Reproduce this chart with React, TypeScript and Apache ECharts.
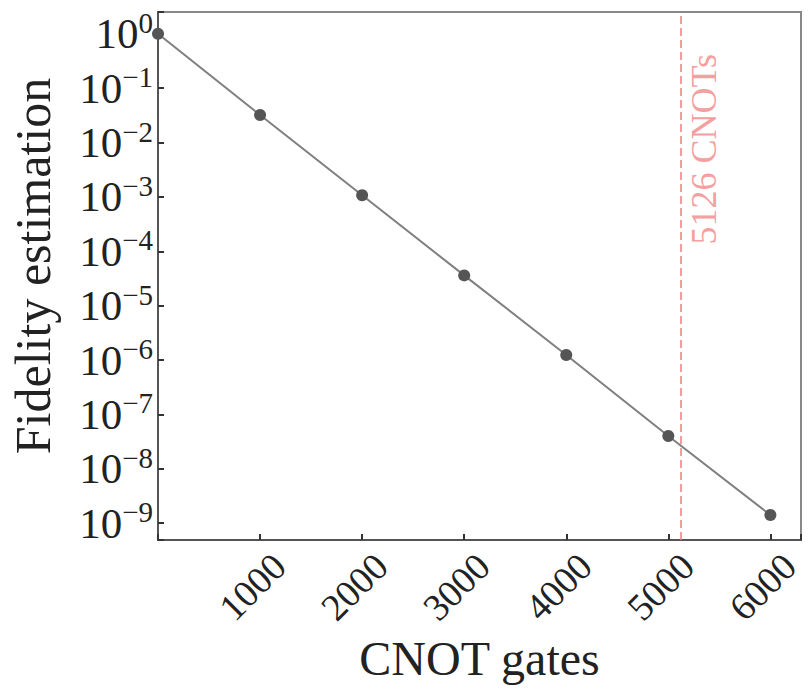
import React, { useEffect, useRef } from "react";
import * as echarts from "echarts";

const gates = [0, 1000, 2000, 3000, 4000, 5000, 6000];
const fidelity = [1.0, 0.032, 1.07e-3, 3.6e-5, 1.24e-6, 4.0e-8, 1.41e-9];
const xTicks = [1000, 2000, 3000, 4000, 5000, 6000];
const cnotLimit = 5126;
const limitLabel = "5126 CNOTs";
const xName = "CNOT gates";
const yName = "Fidelity estimation";

const FONT = "'Liberation Serif', 'DejaVu Serif', serif";

export default function App() {
  const ref = useRef<HTMLDivElement>(null);
  useEffect(() => {
    document.body.style.margin = "0";
    const chart = echarts.init(ref.current!, null, { renderer: "svg" });
    const data = gates.map((g, i) => [g, fidelity[i]]);
    chart.setOption({
      animation: false,
      backgroundColor: "#fff",
      grid: {
        left: 158,
        right: 7,
        top: 12,
        bottom: 149,
        outerBoundsMode: "none",
        containLabel: false,
        show: true,
        borderColor: "#888",
        borderWidth: 2,
      },
      xAxis: {
        type: "value",
        min: 0,
        max: 6300,
        interval: 1000,
        name: xName,
        nameLocation: "middle",
        nameGap: 94,
        nameTextStyle: { fontFamily: FONT, fontSize: 48, color: "#222" },
        axisLine: { show: true, lineStyle: { color: "#555", width: 2 } },
        axisTick: { show: true, inside: true, length: 6, lineStyle: { color: "#333", width: 2 } },
        splitLine: { show: false },
        axisLabel: {
          rotate: 45,
          align: "center",
          verticalAlign: "middle",
          margin: 39,
          padding: [0, 22, 0, 0],
          fontFamily: FONT,
          fontSize: 38,
          color: "#222",
          formatter: (v: number) => (xTicks.includes(v) ? String(v) : ""),
        },
      },
      yAxis: {
        type: "log",
        logBase: 10,
        min: Math.pow(10, -9.31),
        max: Math.pow(10, 0.4),
        splitNumber: 10,
        name: yName,
        nameLocation: "middle",
        nameRotate: 90,
        nameGap: 100,
        nameTextStyle: { fontFamily: FONT, fontSize: 50, color: "#222", padding: [0, 0, 0, 20] },
        axisLine: { show: true, lineStyle: { color: "#555", width: 2 } },
        axisTick: { show: true, inside: true, length: 6, lineStyle: { color: "#333", width: 2 } },
        splitLine: { show: false },
        axisLabel: {
          margin: 5,
          color: "#222",
          formatter: (v: number) => {
            const l = Math.log10(v);
            const e = Math.round(l);
            if (Math.abs(l - e) > 0.01) return "";
            const s = e < 0 ? "\u2212" + Math.abs(e) : String(e);
            return "{b|10}{s|" + s + "}";
          },
          rich: {
            b: { fontFamily: FONT, fontSize: 43, color: "#222" },
            s: { fontFamily: FONT, fontSize: 29, color: "#222", padding: [0, 0, 22, 0] },
          },
        },
      },
      series: [
        {
          type: "line",
          data,
          symbol: "circle",
          symbolSize: 12,
          lineStyle: { color: "#7f7f7f", width: 2 },
          itemStyle: { color: "#555" },
          markLine: {
            silent: true,
            symbol: "none",
            lineStyle: { color: "#ef7f7f", type: [8, 4], width: 1.5 },
            label: {
              show: true,
              formatter: limitLabel,
              position: "insideEndBottom",
              distance: [42, 5],
              fontFamily: FONT,
              fontSize: 36,
              color: "#f4a0a0",
            },
            data: [{ xAxis: cnotLimit }],
          },
        },
      ],
    });
    return () => chart.dispose();
  }, []);
  return <div ref={ref} style={{ width: 808, height: 689 }} />;
}
